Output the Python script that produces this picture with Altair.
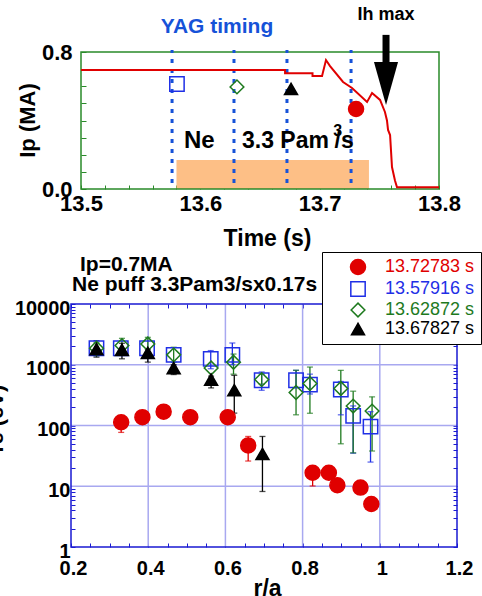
import altair as alt
import pandas as pd

FONT = "Liberation Sans"
W, H = 482, 596
RED, BLUE, GREEN, BLACK = "#e00000", "#1f2fe6", "#1e7a1e", "#000000"
FRAME_G, FRAME_B, GRID, DOT, ORANGE = "#2a8a2a", "#1a1ad2", "#a8a8f0", "#1652d8", "#fdbf86"

# ---------------- top panel data (Ip trace) ----------------
ip_t = [13.5, 13.671, 13.671, 13.694, 13.694, 13.702, 13.7053, 13.7087, 13.7196, 13.7271,
        13.7397, 13.7439, 13.7506, 13.7547, 13.7564, 13.7573, 13.759, 13.7606, 13.7631, 13.7648, 13.8]
ip_v = [0.695, 0.695, 0.676, 0.676, 0.66, 0.66, 0.753, 0.718, 0.625, 0.59,
        0.508, 0.56, 0.52, 0.45, 0.40, 0.345, 0.315, 0.128, 0.05, 0.01, 0.01]
yag_line_t = [13.5763, 13.6282, 13.6726, 13.7263]
yag_line_lo, yag_line_hi = 0.035, 0.812
marker_series = ["13.57916 s", "13.62872 s", "13.67827 s", "13.72783 s"]
marker_t = [13.5804, 13.6307, 13.676, 13.7305]
marker_ip = [0.613, 0.596, 0.584, 0.467]
puff_t0, puff_t1, puff_level = 13.58, 13.7413, 0.17
time_ticks = [13.5, 13.6, 13.7, 13.8]
time_minor = [round(13.5 + 0.02 * k, 2) for k in range(16)]
ip_ticks = [0.0, 0.8]
ip_minor = [round(0.1 * k, 1) for k in range(9)]

# ---------------- bottom panel data (Te profiles) ----------------
series_order = ["13.72783 s", "13.57916 s", "13.62872 s", "13.67827 s"]
series_colors = [RED, BLUE, GREEN, BLACK]
series_fills = [RED, "transparent", "transparent", BLACK]
series_shapes = ["circle", "square", "diamond", "triangle-up"]
series_sizes = [225, 169, 169, 180]

red_r = [0.330, 0.385, 0.440, 0.509, 0.606, 0.659, 0.826, 0.868, 0.890, 0.950, 0.978]
red_te = [113, 137, 169, 137, 137, 47, 16.7, 16.7, 10.4, 9.5, 5.1]
red_lo = [77, None, None, None, None, 26, 10.1, None, None, None, None]
red_hi = [113, None, None, None, None, 66, 16.7, None, None, None, None]

blue_r = [0.266, 0.329, 0.397, 0.466, 0.562, 0.618, 0.694, 0.783, 0.819, 0.899, 0.931, 0.976]
blue_te = [1870, 1870, 1870, 1455, 1250, 1455, 556, 556, 472, 391, 144, 96]
blue_lo = [None, None, None, None, 860, 1000, 380, 420, 330, 150, 35, 25]
blue_hi = [None, None, None, None, 1710, 2280, 760, 810, 700, 530, 210, 169]

green_r = [0.266, 0.332, 0.399, 0.466, 0.563, 0.621, 0.694, 0.783, 0.819, 0.899, 0.931, 0.980]
green_te = [1870, 2070, 2200, 1455, 883, 1100, 570, 349, 490, 406, 209, 173]
green_lo = [1400, 1500, 1500, 1100, None, 700, 480, 150, 159, 50, 35.5, 38]
green_hi = [2300, 2720, 2825, 1940, None, 1500, 700, 810, 916, 808, 367, 296]

black_r = [0.266, 0.332, 0.399, 0.466, 0.563, 0.623, 0.696]
black_te = [1800, 1760, 1570, 883, 569, 382, 34]
black_lo = [1333, 1253, 1105, 690, 416, 160, 8.2]
black_hi = [2490, 2255, 1800, 1000, 650, 670, 66]

r_ticks = [0.2, 0.4, 0.6, 0.8, 1.0, 1.2]
r_minor = [round(0.2 + 0.05 * k, 2) for k in range(21)]
te_ticks = [1, 10, 100, 1000, 10000]
te_minor = [d * 10 ** k for k in range(4) for d in range(1, 10)] + [10000]
grid_r = [0.4, 0.6, 0.8, 1.0]
grid_te = [10, 100, 1000]

# ---------------- layout (pixel ranges of the two plot frames) ----------------
TOP_X, TOP_Y = [81, 439], [189, 52]
BOT_X, BOT_Y = [71, 457], [547, 304]

xs_top = alt.Scale(domain=[13.5, 13.8], range=TOP_X, nice=False, zero=False)
ys_top = alt.Scale(domain=[0, 0.8], range=TOP_Y, nice=False, zero=False)
xs_bot = alt.Scale(domain=[0.2, 1.2], range=BOT_X, nice=False, zero=False)
ys_bot = alt.Scale(type="log", domain=[1, 10000], range=BOT_Y, nice=False)

shape_scale = alt.Scale(domain=series_order, range=series_shapes)
fill_scale = alt.Scale(domain=series_order, range=series_fills)
stroke_scale = alt.Scale(domain=series_order, range=series_colors)
size_scale = alt.Scale(domain=series_order, range=series_sizes)

color_expr = " : ".join(
    f"datum.label == '{s}' ? '{c}'" for s, c in zip(series_order[:-1], series_colors[:-1])
) + f" : '{series_colors[-1]}'"

legend = alt.Legend(
    title=None, orient="none", legendX=322, legendY=252, direction="vertical",
    fillColor="white", strokeColor="black", padding=6, rowPadding=0,
    symbolOffset=21, labelOffset=18, labelFont=FONT, labelFontSize=18,
    labelFontWeight="normal",
    labelColor={"expr": color_expr}, symbolStrokeWidth=1.5, labelLimit=300,
)


def lab_axis(orient, offset, values, fmt, size, pad, title, tsize, tx, ty, loff=0):
    return alt.Axis(
        orient=orient, offset=offset, values=values, format=fmt, domain=False,
        ticks=False, tickSize=0, grid=False, labelPadding=pad, labelOffset=loff,
        labelFont=FONT, labelFontSize=size, labelFontWeight=700, labelColor="black",
        labelFlush=False, labelOverlap=False, title=title, titleFont=FONT,
        titleFontSize=tsize, titleFontWeight="bold", titleColor="black",
        titleX=tx, titleY=ty, titleBaseline="middle", titleAlign="center",
    )


def tick_axis(orient, offset, values, color, size=4):
    return alt.Axis(
        orient=orient, offset=offset, values=values, labels=False, domain=False,
        ticks=True, tickSize=size, tickColor=color, tickWidth=1, grid=False, title=None,
    )


# ---------------- top panel ----------------
df_ip = pd.DataFrame({"t": ip_t, "v": ip_v, "i": list(range(len(ip_t)))})
df_yag = pd.DataFrame({"t": yag_line_t, "lo": yag_line_lo, "hi": yag_line_hi})
df_mk = pd.DataFrame({"series": marker_series, "t": marker_t, "v": marker_ip})
df_puff = pd.DataFrame({"t0": [puff_t0], "t1": [puff_t1], "v0": [0.0], "v1": [puff_level]})
df_tframe = pd.DataFrame({"t0": [13.5], "t1": [13.8], "v0": [0.0], "v1": [0.8]})

ax_tx_lab = lab_axis("bottom", TOP_Y[0] - H, time_ticks, ".1f", 22, 4, "Time (s)", 23, 267, 49)
ax_ty_lab = lab_axis("left", -TOP_X[0], ip_ticks, ".1f", 22, 9, "Ip (MA)", 22, 27 - TOP_X[0], 120)
ax_tx_tk = tick_axis("top", -TOP_Y[0], time_minor, FRAME_G, 4)
ax_ty_tk = tick_axis("right", TOP_X[0] - W, ip_minor, FRAME_G, 5)

puff = alt.Chart(df_puff).mark_rect(color=ORANGE).encode(
    x=alt.X("t0:Q", scale=xs_top, axis=ax_tx_tk), x2="t1:Q",
    y=alt.Y("v0:Q", scale=ys_top, axis=ax_ty_tk), y2="v1:Q")
tframe = alt.Chart(df_tframe).mark_rect(fill="transparent", stroke=FRAME_G, strokeWidth=1.5).encode(
    x=alt.X("t0:Q", scale=xs_top, axis=None), x2="t1:Q",
    y=alt.Y("v0:Q", scale=ys_top, axis=None), y2="v1:Q")
yag = alt.Chart(df_yag).mark_rule(color=DOT, strokeWidth=3, strokeDash=[4, 6]).encode(
    x=alt.X("t:Q", scale=xs_top, axis=None),
    y=alt.Y("lo:Q", scale=ys_top, axis=None), y2="hi:Q")
trace = alt.Chart(df_ip).mark_line(color=RED, strokeWidth=2).encode(
    x=alt.X("t:Q", scale=xs_top, axis=ax_tx_lab),
    y=alt.Y("v:Q", scale=ys_top, axis=ax_ty_lab),
    order=alt.Order("i:Q"))
mk_top = alt.Chart(df_mk).mark_point(strokeWidth=1.5, opacity=1).encode(
    x=alt.X("t:Q", scale=xs_top, axis=None),
    y=alt.Y("v:Q", scale=ys_top, axis=None),
    shape=alt.Shape("series:N", scale=shape_scale, legend=legend),
    fill=alt.Fill("series:N", scale=fill_scale, legend=legend),
    stroke=alt.Stroke("series:N", scale=stroke_scale, legend=legend),
    size=alt.Size("series:N", scale=size_scale, legend=legend))

df_arrow = pd.DataFrame({"t": [13.7556], "v0": [0.74], "v1": [0.90], "vh": [0.616]})
shaft = alt.Chart(df_arrow).mark_rule(color="black", strokeWidth=7).encode(
    x=alt.X("t:Q", scale=xs_top, axis=None),
    y=alt.Y("v0:Q", scale=ys_top, axis=None), y2="v1:Q")
head = alt.Chart(df_arrow).mark_point(
    shape="M -0.56 -1 L 0.56 -1 L 0 1 Z", filled=True, color="black", size=1849, opacity=1
).encode(x=alt.X("t:Q", scale=xs_top, axis=None), y=alt.Y("vh:Q", scale=ys_top, axis=None))


def top_text(label, t, v, size, color="black", align="left", baseline="alphabetic"):
    d = pd.DataFrame({"t": [t], "v": [v], "label": [label]})
    return alt.Chart(d).mark_text(
        font=FONT, fontSize=size, fontWeight="bold", color=color, align=align, baseline=baseline
    ).encode(x=alt.X("t:Q", scale=xs_top, axis=None),
             y=alt.Y("v:Q", scale=ys_top, axis=None), text="label:N")


txt_yag = top_text("YAG timing", 13.614, 0.946, 21, DOT, "center", "middle")
txt_ih = top_text("Ih max", 13.7556, 1.016, 18, "black", "center", "middle")
txt_ne = top_text("Ne", 13.5863, 0.239, 24)
txt_rate = top_text("3.3 Pam", 13.6349, 0.239, 23)
txt_sup = top_text("3", 13.7114, 0.31, 16)
txt_per = top_text("/s", 13.7125, 0.239, 23)

top = alt.layer(
    puff, tframe, yag, trace, mk_top, shaft, head,
    txt_yag, txt_ih, txt_ne, txt_rate, txt_sup, txt_per,
).resolve_axis(x="independent", y="independent")

# ---------------- bottom panel ----------------
def series_df(name, r, te, lo, hi):
    return pd.DataFrame({"series": name, "r": r, "te": te, "lo": lo, "hi": hi})


df_pts = pd.concat([
    series_df("13.57916 s", blue_r, blue_te, blue_lo, blue_hi),
    series_df("13.62872 s", green_r, green_te, green_lo, green_hi),
    series_df("13.67827 s", black_r, black_te, black_lo, black_hi),
    series_df("13.72783 s", red_r, red_te, red_lo, red_hi),
], ignore_index=True)
df_err = df_pts.dropna(subset=["lo", "hi"]).copy()
df_caps = pd.concat([
    df_err[["series", "r", "lo"]].rename(columns={"lo": "val"}),
    df_err[["series", "r", "hi"]].rename(columns={"hi": "val"}),
], ignore_index=True)

df_vgrid = pd.DataFrame({"r": grid_r, "y0": 1, "y1": 10000})
df_hgrid = pd.DataFrame({"te": grid_te, "x0": 0.2, "x1": 1.2})
df_bframe = pd.DataFrame({"x0": [0.2], "x1": [1.2], "y0": [1], "y1": [10000]})

ax_bx_lab = lab_axis("bottom", BOT_Y[0] - H, r_ticks, "~g", 20, 11, "r/a", 23, 267, 41, 2)
ax_by_lab = lab_axis("left", -BOT_X[0], te_ticks, "d", 20, 1, "Te (eV)", 22, -76, 420, 4)
ax_bx_tk_b = tick_axis("top", -BOT_Y[0], r_minor, FRAME_B, 4)
ax_bx_tk_t = tick_axis("bottom", BOT_Y[1] - H, r_minor, FRAME_B, 4)
ax_by_tk_l = tick_axis("right", BOT_X[0] - W, te_minor, FRAME_B, 4)
ax_by_tk_r = tick_axis("left", -BOT_X[1], te_minor, FRAME_B, 4)

vgrid = alt.Chart(df_vgrid).mark_rule(color=GRID, strokeWidth=1.5).encode(
    x=alt.X("r:Q", scale=xs_bot, axis=ax_bx_lab),
    y=alt.Y("y0:Q", scale=ys_bot, axis=ax_by_lab), y2="y1:Q")
hgrid = alt.Chart(df_hgrid).mark_rule(color=GRID, strokeWidth=1.5).encode(
    y=alt.Y("te:Q", scale=ys_bot, axis=ax_by_tk_l),
    x=alt.X("x0:Q", scale=xs_bot, axis=ax_bx_tk_b), x2="x1:Q")
bframe = alt.Chart(df_bframe).mark_rect(fill="transparent", stroke=FRAME_B, strokeWidth=1.5).encode(
    x=alt.X("x0:Q", scale=xs_bot, axis=ax_bx_tk_t), x2="x1:Q",
    y=alt.Y("y0:Q", scale=ys_bot, axis=ax_by_tk_r), y2="y1:Q")
errbars = alt.Chart(df_err).mark_rule(strokeWidth=1.3).encode(
    x=alt.X("r:Q", scale=xs_bot, axis=None),
    y=alt.Y("lo:Q", scale=ys_bot, axis=None), y2="hi:Q",
    stroke=alt.Stroke("series:N", scale=stroke_scale, legend=None))
caps = alt.Chart(df_caps).mark_tick(orient="horizontal", size=6, thickness=1.3).encode(
    x=alt.X("r:Q", scale=xs_bot, axis=None),
    y=alt.Y("val:Q", scale=ys_bot, axis=None),
    color=alt.Color("series:N", scale=stroke_scale, legend=None))
pts = alt.Chart(df_pts).mark_point(strokeWidth=1.5, opacity=1).encode(
    x=alt.X("r:Q", scale=xs_bot, axis=None),
    y=alt.Y("te:Q", scale=ys_bot, axis=None),
    shape=alt.Shape("series:N", scale=shape_scale, legend=legend),
    fill=alt.Fill("series:N", scale=fill_scale, legend=legend),
    stroke=alt.Stroke("series:N", scale=stroke_scale, legend=legend),
    size=alt.Size("series:N", scale=size_scale, legend=legend))


def px_text(label, x, y, size):
    d = pd.DataFrame({"label": [label]})
    return alt.Chart(d).mark_text(
        font=FONT, fontSize=size, fontWeight="bold", color="black", align="left", baseline="middle"
    ).encode(x=alt.value(x), y=alt.value(y), text="label:N")


title1 = px_text("Ip=0.7MA", 80, 265, 21)
title2 = px_text("Ne puff 3.3Pam3/sx0.17s", 72, 285, 21)

bottom = alt.layer(
    vgrid, hgrid, bframe, errbars, caps, pts, title1, title2,
).resolve_axis(x="independent", y="independent")

chart = alt.layer(top, bottom).resolve_scale(
    x="independent", y="independent"
).properties(
    width=W, height=H, autosize=alt.AutoSizeParams(type="none"), padding=0,
    background="white",
).configure_view(strokeWidth=0).configure_axis(labelFontWeight="bold")

chart.save("out.html", embed_options={"renderer": "svg", "actions": False})
